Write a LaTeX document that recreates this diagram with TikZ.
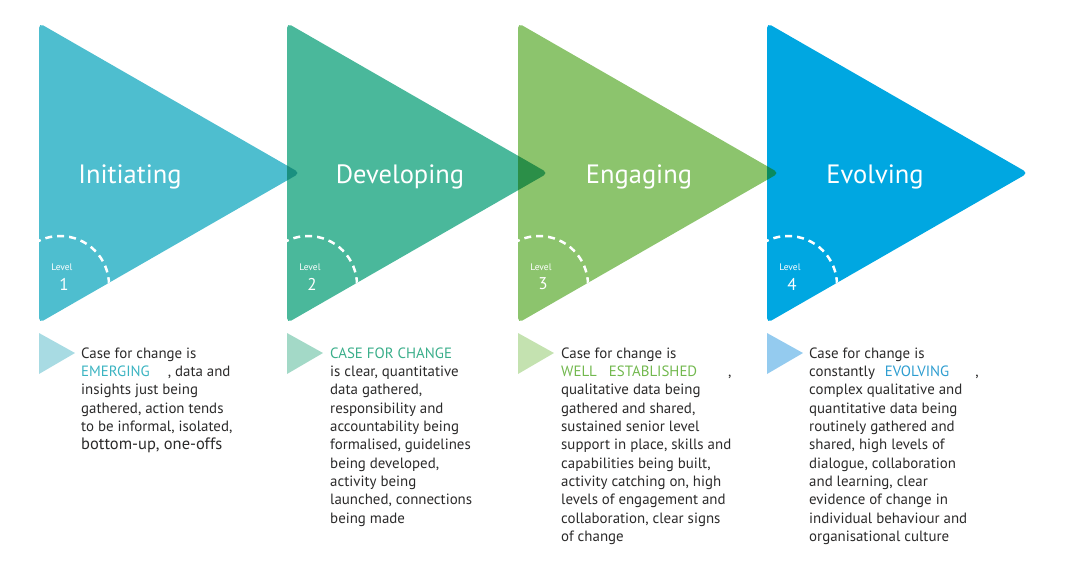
\documentclass[tikz,border=0pt]{standalone}
\usepackage{fontspec}
\setmainfont{PT Sans}
\definecolor{t1}{HTML}{4EBECF}
\definecolor{t2}{HTML}{4AB89B}
\definecolor{t3}{HTML}{8CC46D}
\definecolor{t4}{HTML}{00A7E1}
\definecolor{o1}{HTML}{1A9080}
\definecolor{o2}{HTML}{2B8F48}
\definecolor{o3}{HTML}{0A8A5E}
\definecolor{l1}{HTML}{A8DBE3}
\definecolor{l2}{HTML}{A3D9C7}
\definecolor{l3}{HTML}{C4E2B0}
\definecolor{l4}{HTML}{94CBEF}
\definecolor{k1}{HTML}{3AB3C1}
\definecolor{k2}{HTML}{3AAE8A}
\definecolor{k3}{HTML}{72B84E}
\definecolor{k4}{HTML}{2D9DD0}
\definecolor{body}{HTML}{2B2A2A}
\newcommand\bigtri[1]{(#1,23) -- (#1+261,173) -- (#1,323) -- cycle}
\newcommand\smalltri[1]{(#1,333) -- (#1+36,353) -- (#1,374) -- cycle}
\tikzset{
  title/.style={text=white, font=\fontsize{26.5}{30}\selectfont, inner sep=0pt},
  lvl/.style={text=white, font=\fontsize{9.5}{11}\selectfont, inner sep=0pt},
  lvlnum/.style={text=white, font=\fontsize{17}{19}\selectfont, inner sep=0pt},
  bodytext/.style={text=body, font=\fontsize{14.9}{18.3}\selectfont, align=left, anchor=north west, inner sep=0pt},
  dashcirc/.style={white, line width=2.5pt, dash pattern=on 7pt off 5pt},
  rc/.style={rounded corners=5pt}
}
\begin{document}
\begin{tikzpicture}[x=1pt,y=-1pt]
\useasboundingbox (0,0) rectangle (1067,568);
% big triangles
\fill[t1,rc] \bigtri{39};
\fill[t2,rc] \bigtri{287};
\fill[t3,rc] \bigtri{518};
\fill[t4,rc] \bigtri{767};
% overlaps
\begin{scope}\clip[rc] \bigtri{287}; \fill[o1,rc] \bigtri{39}; \end{scope}
\begin{scope}\clip[rc] \bigtri{518}; \fill[o2,rc] \bigtri{287}; \end{scope}
\begin{scope}\clip[rc] \bigtri{767}; \fill[o3,rc] \bigtri{518}; \end{scope}
% dashed level circles
\foreach \L in {39,287,518,767}{
  \begin{scope}\clip[rc] \bigtri{\L};
    \draw[dashcirc] (\L+21,285) circle (49);
  \end{scope}
}
% titles
\node[title] (n1) at (130,177) {Initiating};
\node[title] (n2) at (400,177) {Developing};
\node[title] (n3) at (639,177) {Engaging};
\node[title] (n4) at (875,177) {Evolving};
% levels
\node[lvl] (lv1) at (62,267) {Level};
\node[lvlnum] (lvn1) at (64,284) {1};
\node[lvl] (lv2) at (310,267) {Level};
\node[lvlnum] (lvn2) at (312,284) {2};
\node[lvl] (lv3) at (541,267) {Level};
\node[lvlnum] (lvn3) at (543,284) {3};
\node[lvl] (lv4) at (790,267) {Level};
\node[lvlnum] (lvn4) at (792,284) {4};
% small triangles
\fill[l1] \smalltri{39};
\fill[l2] \smalltri{287};
\fill[l3] \smalltri{518};
\fill[l4] \smalltri{767};
% body texts
\node[bodytext] (b1) at (81,347.5) {Case for change is\\
{\color{k1}EMERGING}\hspace{18pt}, data and\\
insights just being\\
gathered, action tends\\
to be informal, isolated,\\
{\fontsize{16.5}{18.3}\selectfont bottom-up, one-offs}};
\node[bodytext] (b2) at (330,347.5) {{\color{k2}CASE FOR CHANGE}\\
is clear, quantitative\\
data gathered,\\
responsibility and\\
accountability being\\
formalised, guidelines\\
being developed,\\
activity being\\
launched, connections\\
being made};
\node[bodytext] (b3) at (561,347.5) {Case for change is\\
{\color{k3}WELL\hspace{12pt}ESTABLISHED}\hspace{31pt},\\
qualitative data being\\
gathered and shared,\\
sustained senior level\\
support in place, skills and\\
capabilities being built,\\
activity catching on, high\\
levels of engagement and\\
collaboration, clear signs\\
of change};
\node[bodytext] (b4) at (809,347.5) {Case for change is\\
constantly\hspace{10pt}{\color{k4}EVOLVING}\hspace{26pt},\\
complex qualitative and\\
quantitative data being\\
routinely gathered and\\
shared, high levels of\\
dialogue, collaboration\\
and learning, clear\\
evidence of change in\\
individual behaviour and\\
organisational culture};
\end{tikzpicture}
\end{document}
